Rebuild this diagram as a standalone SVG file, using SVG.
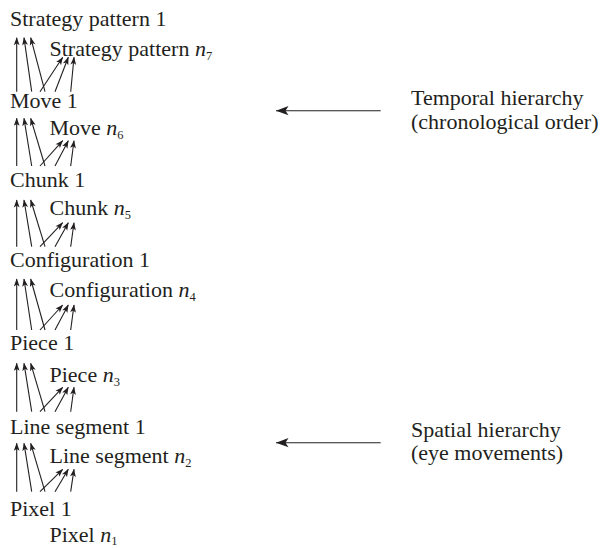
<svg xmlns="http://www.w3.org/2000/svg" width="604" height="548" viewBox="0 0 604 548">
<defs>
<style>
text{font-family:"Liberation Serif","Times New Roman",serif;font-size:22px;fill:#231f20}
.n{font-style:italic}
.sub{font-size:12.5px}
.c line{stroke:#231f20;stroke-width:1.1;fill:none}
.s{marker-end:url(#sm)}
.b{marker-end:url(#bg)}
</style>
<marker id="sm" markerUnits="userSpaceOnUse" markerWidth="10" markerHeight="10" viewBox="-9 -4 10 8" refX="0" refY="0" orient="auto">
<path d="M0.5,0 L-7.5,-2.9 L-5.6,0 L-7.5,2.9 Z" fill="#231f20"/>
</marker>
<marker id="bg" markerUnits="userSpaceOnUse" markerWidth="16" markerHeight="12" viewBox="-14 -6 15 12" refX="0" refY="0" orient="auto">
<path d="M0,0 L-12.5,-4.6 L-9.5,0 L-12.5,4.6 Z" fill="#231f20"/>
</marker>
</defs>
<g id="node-strategy-1"><text x="10" y="25.5">Strategy pattern 1</text></g>
<g id="node-strategy-n"><text x="49.5" y="55.7">Strategy pattern <tspan class="n">n</tspan><tspan class="sub" dy="4">7</tspan></text></g>
<g id="node-move-1"><text x="10" y="108.3">Move 1</text></g>
<g id="node-move-n"><text x="49.5" y="134.5">Move <tspan class="n">n</tspan><tspan class="sub" dy="4">6</tspan></text></g>
<g id="node-chunk-1"><text x="10" y="186.7">Chunk 1</text></g>
<g id="node-chunk-n"><text x="49.5" y="215">Chunk <tspan class="n">n</tspan><tspan class="sub" dy="4">5</tspan></text></g>
<g id="node-configuration-1"><text x="10" y="266.5">Configuration 1</text></g>
<g id="node-configuration-n"><text x="49.5" y="296.7">Configuration <tspan class="n">n</tspan><tspan class="sub" dy="4">4</tspan></text></g>
<g id="node-piece-1"><text x="10" y="350">Piece 1</text></g>
<g id="node-piece-n"><text x="49.5" y="381.7">Piece <tspan class="n">n</tspan><tspan class="sub" dy="4">3</tspan></text></g>
<g id="node-line-segment-1"><text x="10" y="434">Line segment 1</text></g>
<g id="node-line-segment-n"><text x="49.5" y="463.3">Line segment <tspan class="n">n</tspan><tspan class="sub" dy="4">2</tspan></text></g>
<g id="node-pixel-1"><text x="10" y="516">Pixel 1</text></g>
<g id="node-pixel-n"><text x="49.5" y="542">Pixel <tspan class="n">n</tspan><tspan class="sub" dy="2.5">1</tspan></text></g>
<g id="label-temporal"><text x="411" y="105">Temporal hierarchy</text><text x="411" y="129">(chronological order)</text></g>
<g id="label-spatial"><text x="411" y="436.5">Spatial hierarchy</text><text x="411" y="460">(eye movements)</text></g>
<g id="connectors" class="c">
<g id="c1">
<line class="s" x1="16.7" y1="91.7" x2="16.7" y2="37.7"/>
<line class="s" x1="31.7" y1="91.7" x2="24" y2="37.7"/>
<line class="s" x1="45" y1="91.7" x2="30.7" y2="37.7"/>
<line class="s" x1="40" y1="91.7" x2="62.7" y2="57.3"/>
<line class="s" x1="55" y1="91.7" x2="68.3" y2="57.3"/>
<line class="s" x1="70.7" y1="91.7" x2="74" y2="57.3"/>
</g>
<g id="c2">
<line class="s" x1="16.7" y1="166" x2="16.7" y2="118.3"/>
<line class="s" x1="31.7" y1="166" x2="24" y2="118.3"/>
<line class="s" x1="45" y1="166" x2="30.7" y2="118.3"/>
<line class="s" x1="40" y1="166" x2="62.7" y2="140.7"/>
<line class="s" x1="55" y1="166" x2="68.3" y2="140.7"/>
<line class="s" x1="70.7" y1="166" x2="74" y2="140.7"/>
</g>
<g id="c3">
<line class="s" x1="16.7" y1="246.7" x2="16.7" y2="200"/>
<line class="s" x1="31.7" y1="246.7" x2="24" y2="200"/>
<line class="s" x1="45" y1="246.7" x2="30.7" y2="200"/>
<line class="s" x1="40" y1="246.7" x2="62.7" y2="222.7"/>
<line class="s" x1="55" y1="246.7" x2="68.3" y2="222.7"/>
<line class="s" x1="70.7" y1="246.7" x2="74" y2="222.7"/>
</g>
<g id="c4">
<line class="s" x1="16.7" y1="330" x2="16.7" y2="279"/>
<line class="s" x1="31.7" y1="330" x2="24" y2="279"/>
<line class="s" x1="45" y1="330" x2="30.7" y2="279"/>
<line class="s" x1="40" y1="330" x2="62.7" y2="305"/>
<line class="s" x1="55" y1="330" x2="68.3" y2="305"/>
<line class="s" x1="70.7" y1="330" x2="74" y2="305"/>
</g>
<g id="c5">
<line class="s" x1="16.7" y1="411.7" x2="16.7" y2="363.3"/>
<line class="s" x1="31.7" y1="411.7" x2="24" y2="363.3"/>
<line class="s" x1="45" y1="411.7" x2="30.7" y2="363.3"/>
<line class="s" x1="40" y1="411.7" x2="62.7" y2="387.3"/>
<line class="s" x1="55" y1="411.7" x2="68.3" y2="387.3"/>
<line class="s" x1="70.7" y1="411.7" x2="74" y2="387.3"/>
</g>
<g id="c6">
<line class="s" x1="16.7" y1="491.7" x2="16.7" y2="443.3"/>
<line class="s" x1="31.7" y1="491.7" x2="24" y2="443.3"/>
<line class="s" x1="45" y1="491.7" x2="30.7" y2="443.3"/>
<line class="s" x1="40" y1="491.7" x2="62.7" y2="469.3"/>
<line class="s" x1="55" y1="491.7" x2="68.3" y2="469.3"/>
<line class="s" x1="70.7" y1="491.7" x2="74" y2="469.3"/>
</g>
<line class="b" x1="380.7" y1="110.7" x2="276" y2="110.7"/>
<line class="b" x1="380.7" y1="442.7" x2="276" y2="442.7"/>
</g>
</svg>
